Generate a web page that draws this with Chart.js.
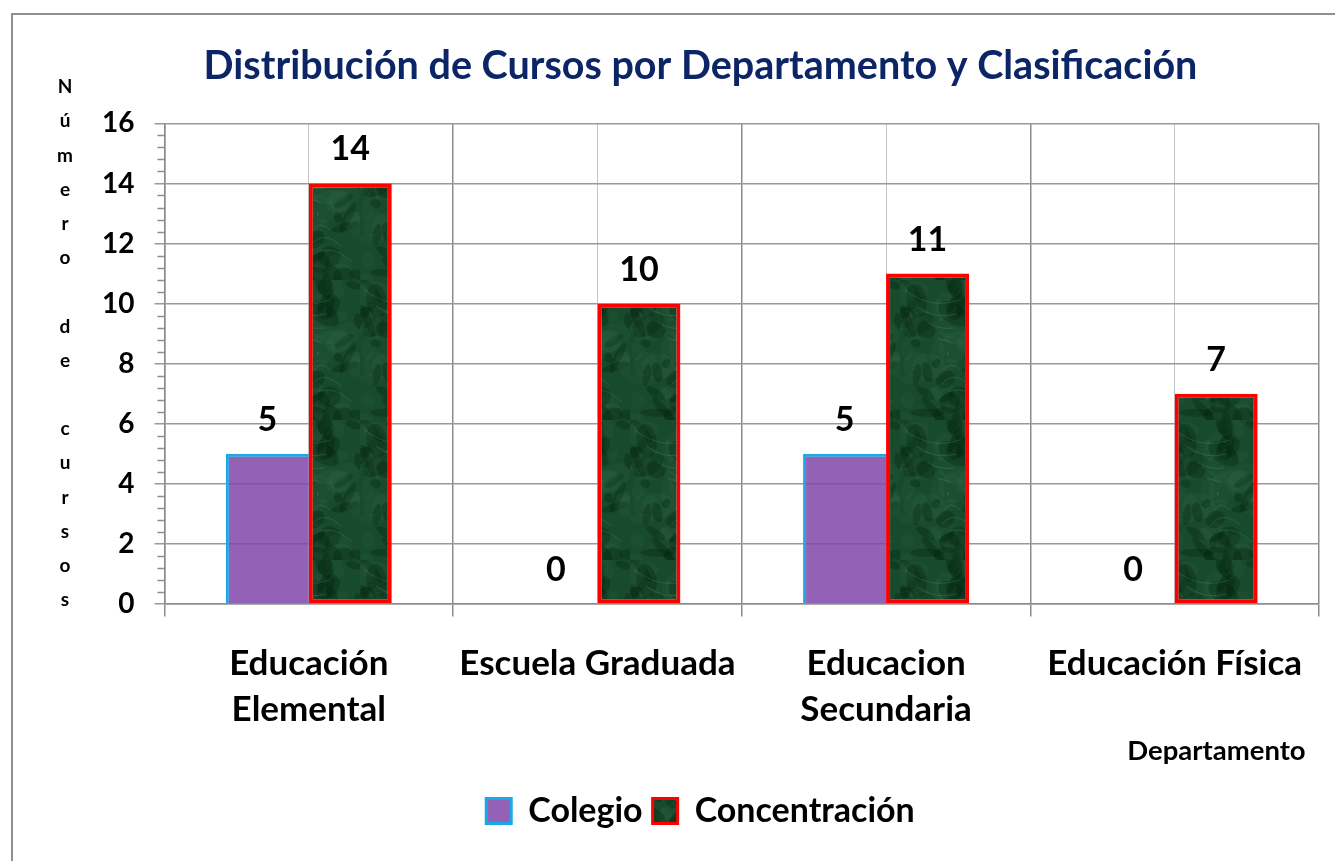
<!DOCTYPE html>
<html><head><meta charset="utf-8">
<script src="https://cdn.jsdelivr.net/npm/chart.js@4/dist/chart.umd.min.js"></script>
<style>
html,body{margin:0;padding:0;background:#fff;overflow:hidden}
#frame{position:absolute;left:11px;top:13px;width:1400px;height:900px;border:2px solid #8f8f8f;box-sizing:border-box}
#wrap{position:absolute;left:0;top:0;width:1335px;height:861px}
</style></head><body>
<div id="frame"></div>
<div id="wrap"><canvas id="c" width="1335" height="861"></canvas></div>
<script>
// ---- data ----
const chartTitle = 'Distribución de Cursos por Departamento y Clasificación';
const categories = [['Educación', 'Elemental'], 'Escuela Graduada', ['Educacion', 'Secundaria'], 'Educación Física'];
const seriesNames = ['Colegio', 'Concentración'];
const colegio = [5, 0, 5, 0];
const concentracion = [14, 10, 11, 7];
const yMin = 0, yMax = 16, yStep = 2, yMinorStep = 0.4;
const yTitle = 'Número de cursos';
const xTitle = 'Departamento';

// ---- styling helpers ----
function marblePattern() {
  const c = document.createElement('canvas');
  c.width = 90; c.height = 140;
  const g = c.getContext('2d');
  g.fillStyle = '#184a2c';
  g.fillRect(0, 0, c.width, c.height);
  for (let i = 0; i < 70; i++) {
    const x = (Math.sin(i * 12.9898) * 43758.5453) % 1;
    const y = (Math.sin(i * 78.233) * 12543.853) % 1;
    const px = Math.abs(x) * c.width, py = Math.abs(y) * c.height;
    g.fillStyle = i % 2 === 0 ? 'rgba(0,28,10,0.28)' : 'rgba(90,160,110,0.07)';
    g.beginPath();
    g.ellipse(px, py, 5 + (i % 5) * 3, 4 + (i % 4) * 3, i, 0, Math.PI * 2);
    g.fill();
  }
  g.strokeStyle = 'rgba(130,200,150,0.18)';
  g.lineWidth = 1;
  for (let i = 0; i < 8; i++) {
    g.beginPath();
    g.moveTo(5 + i * 11, 10 + i * 16);
    g.quadraticCurveTo(30 + i * 4, 30 + i * 10, 60 - i * 3, 20 + i * 14);
    g.stroke();
  }
  return g.createPattern(c, 'repeat');
}
const FONT = 'Lato, "Open Sans", sans-serif';

const yTitlePlugin = {
  id: 'yTitleStack',
  afterDraw(chart) {
    const ctx = chart.ctx;
    const letters = Array.from(yTitle);
    const top = 87, step = 34.2, x = 65;
    ctx.save();
    ctx.font = 'bold 19px ' + FONT;
    ctx.fillStyle = '#000';
    ctx.textAlign = 'center';
    ctx.textBaseline = 'middle';
    letters.forEach((ch, i) => { if (ch !== ' ') ctx.fillText(ch, x, top + i * step); });
    ctx.restore();
  }
};

const minorTicksPlugin = {
  id: 'minorTicks',
  afterDraw(chart) {
    const s = chart.scales.y;
    const ctx = chart.ctx;
    const n = Math.round((yMax - yMin) / yMinorStep);
    const majorEvery = Math.round(yStep / yMinorStep);
    ctx.save();
    ctx.strokeStyle = '#8c8c8c';
    ctx.lineWidth = 1.5;
    for (let i = 0; i <= n; i++) {
      if (i % majorEvery === 0) continue;
      const py = Math.round(s.getPixelForValue(yMin + i * yMinorStep)) + 0.5;
      ctx.beginPath();
      ctx.moveTo(s.right - 7, py);
      ctx.lineTo(s.right, py);
      ctx.stroke();
    }
    ctx.restore();
  }
};

const valueLabelsPlugin = {
  id: 'valueLabels',
  afterDatasetsDraw(chart) {
    const ctx = chart.ctx;
    ctx.save();
    ctx.font = 'bold 34px ' + FONT;
    ctx.fillStyle = '#000';
    ctx.textAlign = 'center';
    ctx.textBaseline = 'bottom';
    chart.data.datasets.forEach((ds, di) => {
      chart.getDatasetMeta(di).data.forEach((el, i) => {
        ctx.fillText(String(ds.data[i]), el.x, el.y - 17);
      });
    });
    ctx.restore();
  }
};

const green = marblePattern();

new Chart(document.getElementById('c'), {
  type: 'bar',
  data: {
    labels: categories,
    datasets: [
      {
        label: seriesNames[0],
        data: colegio,
        backgroundColor: 'rgba(128,70,170,0.85)',
        borderColor: '#19a9e6',
        borderWidth: {top: 3, left: 3, right: 0, bottom: 0},
        borderSkipped: false,
        categoryPercentage: 0.575,
        barPercentage: 1.0
      },
      {
        label: seriesNames[1],
        data: concentracion,
        backgroundColor: green,
        borderColor: '#ff0000',
        borderWidth: 4,
        borderSkipped: false,
        categoryPercentage: 0.575,
        barPercentage: 1.0
      }
    ]
  },
  options: {
    responsive: false,
    animation: false,
    layout: {padding: {left: 82, right: 16, top: 0, bottom: 23}},
    plugins: {
      title: {
        display: true,
        text: chartTitle,
        color: '#0b2566',
        font: {family: FONT, size: 39.5, weight: 'bold', lineHeight: 1.2},
        padding: {top: 43, bottom: 33}
      },
      legend: {
        position: 'bottom',
        labels: {
          color: '#000',
          font: {family: FONT, size: 34, weight: 'bold'},
          boxWidth: 25,
          boxHeight: 25,
          padding: 10,
          generateLabels(chart) {
            const items = Chart.defaults.plugins.legend.labels.generateLabels(chart);
            items.forEach(it => { it.lineWidth = 3; });
            return items;
          }
        }
      },
      tooltip: {enabled: false}
    },
    scales: {
      x: {
        offset: true,
        grid: {offset: true, color: '#8c8c8c', lineWidth: 1.5, tickLength: 34.5, tickBorderDash: [12, 200], drawOnChartArea: true},
        border: {display: true, color: '#8c8c8c', width: 1.5},
        ticks: {color: '#000', font: {family: FONT, size: 35, weight: 'bold', lineHeight: 1.3}, padding: 2.75, maxRotation: 0, autoSkip: false},
        title: {display: true, text: xTitle + '  ', align: 'end', color: '#000', font: {family: FONT, size: 27.5, weight: 'bold', lineHeight: 1.2}, padding: {top: 0, bottom: 16}}
      },
      x2: {
        type: 'category',
        position: 'bottom',
        offset: true,
        grid: {offset: false, color: '#c4c4c4', lineWidth: 1, drawTicks: false},
        border: {display: false},
        ticks: {display: false}
      },
      y: {
        min: yMin, max: yMax,
        grid: {color: '#999999', lineWidth: 1.5, tickLength: 10},
        border: {display: true, color: '#8c8c8c', width: 1.5},
        ticks: {stepSize: yStep, color: '#000', font: {family: FONT, size: 28, weight: 'bold'}, padding: 20}
      }
    }
  },
  plugins: [yTitlePlugin, minorTicksPlugin, valueLabelsPlugin]
});
</script>
</body></html>
